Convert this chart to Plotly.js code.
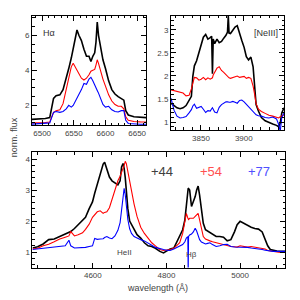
<!DOCTYPE html>
<html>
<head>
<meta charset="utf-8">
<script src="https://cdn.plot.ly/plotly-3.0.1.min.js"></script>
<style>html,body{margin:0;padding:0;background:#fff;}#chart{width:300px;height:300px;}</style>
</head>
<body>
<div id="chart"></div>
<script>
// ---- Panel A: H-alpha ----
const wlA = [6484,6495,6505,6512,6515,6518,6522,6528,6533,6538,6542,6546,6549,6552,6555,6558,6562,6566,6570,6574,6577,6580,6583,6585,6587,6589,6592,6596,6600,6605,6610,6615,6620,6625,6629,6632,6636,6645,6655,6664];
const blackA = [1.2,1.22,1.25,1.3,1.8,2.4,2.55,2.6,2.9,3.5,4.1,4.7,5.2,5.7,6.3,6.0,5.7,5.2,4.8,4.8,4.5,4.8,5.0,5.6,6.75,6.0,5.3,4.6,4.1,3.4,2.9,2.65,2.5,2.4,2.3,1.7,1.45,1.35,1.32,1.3];
const redA = [1.0,1.0,1.02,1.05,1.3,1.6,1.7,1.75,2.1,2.9,3.7,4.2,4.4,4.2,3.95,3.75,3.55,3.45,3.55,3.75,3.95,4.0,4.05,4.3,4.6,4.4,4.0,3.5,3.1,2.6,2.25,2.05,1.95,1.95,1.8,1.35,1.15,1.08,1.06,1.05];
const blueA = [0.93,0.95,0.97,1.0,1.3,1.6,1.65,1.6,1.65,1.8,2.0,1.9,2.0,2.2,2.35,2.6,2.9,3.25,3.2,3.5,3.6,3.4,3.2,3.05,2.85,2.7,2.4,2.05,1.9,1.95,1.75,1.65,1.62,1.7,1.7,1.15,0.97,0.93,0.92,0.92];

// ---- Panel B: [NeIII] ----
const wlB = [3815,3818.5,3822,3825.6,3829.1,3832.6,3836.1,3838.8,3840.5,3842.3,3844.9,3847.6,3850.2,3852.8,3855.5,3858.1,3860.8,3862.5,3863.4,3864.3,3866,3868.7,3871.3,3874,3876.6,3879.2,3881,3881.9,3882.8,3884.5,3887.2,3889.8,3892.4,3895.1,3897.7,3900.4,3903,3905.6,3908.3,3910.9,3912.7,3914.4,3917.1,3920.6,3925,3929.4,3933.8,3938.2,3940.8,3942.6,3944.4,3947];
const blackB = [1.41,1.35,1.31,1.29,1.31,1.36,1.47,1.56,1.99,2.22,2.33,2.5,2.72,2.84,2.9,2.8,2.83,2.86,2.05,2.8,2.7,2.8,2.72,2.75,2.82,2.88,2.95,3.3,2.93,2.92,2.99,3.06,3.09,2.9,2.77,2.62,2.42,2.35,2.41,2.2,1.75,1.38,1.24,1.1,1.03,0.99,0.96,0.93,0.9,0.98,1.2,1.31];
const redB = [1.7,1.68,1.66,1.65,1.63,1.57,1.58,1.72,1.88,1.97,1.96,1.91,1.93,1.97,1.92,1.96,1.93,1.95,1.96,2.02,2.08,2.17,2.2,2.12,2.08,2.02,2.0,1.98,1.96,1.95,1.97,1.98,2.0,1.97,1.98,1.99,1.95,1.97,1.95,1.78,1.6,1.4,1.28,1.23,1.19,1.15,1.13,1.1,1.09,1.12,1.14,1.16];
const blueB = [1.52,1.26,1.13,1.09,1.1,1.12,1.2,1.27,1.35,1.39,1.3,1.32,1.34,1.28,1.21,1.25,1.24,1.29,1.31,1.28,1.22,1.2,1.32,1.38,1.41,1.44,1.44,1.43,1.43,1.43,1.45,1.43,1.41,1.47,1.48,1.44,1.39,1.35,1.3,1.24,1.2,1.16,1.14,1.13,1.1,1.09,1.11,1.07,0.95,0.8,1.1,1.2];

// ---- Panel C: HeII 4686 / H-beta ----
const wlC = [4436,4450,4465,4480,4495,4510,4525,4535,4540,4550,4560,4572,4580,4590,4599,4605,4612,4620,4628,4632,4638,4645,4652,4660,4668,4674,4678,4682,4685,4688,4691,4695,4700,4705,4712,4720,4730,4740,4750,4760,4770,4782,4792,4800,4810,4820,4828,4836,4844,4850,4854,4858,4859,4860,4863,4868,4873,4878,4882,4886,4890,4895,4900,4906,4912,4918,4925,4935,4945,4955,4965,4975,4985,4992,5000,5010,5020,5030,5040,5050,5060,5068,5075,5082,5090,5100,5110,5122];
const blackC = [1.13,1.17,1.26,1.4,1.42,1.5,1.57,1.62,1.66,1.76,1.87,2.0,2.12,2.4,2.62,2.9,3.2,3.5,3.84,3.9,3.7,3.42,3.3,3.22,3.17,3.3,3.75,3.86,3.7,3.4,2.95,2.4,2.0,1.88,1.72,1.56,1.45,1.3,1.2,1.18,1.12,1.02,0.97,1.02,1.1,1.13,1.34,1.56,1.72,2.04,2.58,3.0,3.06,3.05,3.0,2.47,2.63,2.79,3.0,3.13,2.84,2.36,1.93,1.72,1.67,1.62,1.56,1.5,1.5,1.48,1.36,1.4,1.66,1.88,1.99,1.92,1.85,1.8,1.76,1.74,1.65,1.4,1.2,1.08,1.05,1.03,1.02,1.02];
const redC = [1.1,1.12,1.2,1.25,1.33,1.42,1.48,1.52,1.66,1.52,1.56,1.62,1.73,1.9,2.12,2.2,2.3,2.33,2.25,2.28,2.3,2.43,2.7,3.05,3.3,3.45,3.55,3.7,3.8,3.93,3.85,3.6,3.2,3.0,2.55,2.15,1.8,1.6,1.45,1.3,1.2,1.08,1.05,1.06,1.08,1.12,1.2,1.3,1.6,2.04,2.25,2.1,2.05,2.05,2.09,2.09,2.09,2.15,2.2,2.25,2.04,1.7,1.5,1.42,1.4,1.36,1.33,1.3,1.26,1.24,1.22,1.18,1.17,1.16,1.2,1.18,1.16,1.18,1.16,1.15,1.13,1.1,1.05,1.03,1.02,1.0,0.99,0.99];
const blueC = [1.08,1.1,1.12,1.14,1.16,1.19,1.2,1.38,1.2,1.13,1.13,1.13,1.15,1.18,1.2,1.44,1.41,1.42,1.43,1.47,1.5,1.45,1.43,1.52,1.7,1.95,2.4,2.85,3.06,2.85,2.45,2.05,1.75,1.6,1.5,1.45,1.4,1.36,1.3,1.22,1.15,1.1,1.08,1.06,1.05,1.1,1.15,1.18,1.24,1.33,1.45,1.5,0.3,1.5,1.55,1.58,1.65,1.77,1.68,1.55,1.4,1.32,1.29,1.26,1.28,1.3,1.24,1.18,1.2,1.24,1.25,1.18,1.16,1.16,1.16,1.16,1.15,1.13,1.12,1.1,1.08,1.06,1.04,1.02,1.02,1.02,1.02,1.02];

const epochLabels = ['+44', '+54', '+77'];
const seriesColors = ['#000000', '#ff0000', '#0000ff'];
const labelColors = ['#404040', '#ff5050', '#5050ff'];

const FONT = 'Liberation Sans, Arial, sans-serif';

function mk(x, y, i, ax) {
  return {x: x, y: y, type: 'scatter', mode: 'lines', xaxis: 'x' + ax, yaxis: 'y' + ax,
    line: {color: seriesColors[i], width: i === 0 ? 1.6 : 1.1}, hoverinfo: 'skip', showlegend: false};
}
const data = [
  mk(wlA, blackA, 0, ''), mk(wlA, redA, 1, ''), mk(wlA, blueA, 2, ''),
  mk(wlB, blackB, 0, '2'), mk(wlB, redB, 1, '2'), mk(wlB, blueB, 2, '2'),
  mk(wlC, blackC, 0, '3'), mk(wlC, redC, 1, '3'), mk(wlC, blueC, 2, '3')
];

function axis(extra) {
  return Object.assign({
    showline: true, linecolor: '#000', linewidth: 1, mirror: 'allticks',
    ticks: 'inside', ticklen: 5, tickcolor: '#000', tickwidth: 1,
    showgrid: false, zeroline: false, fixedrange: true,
    tickfont: {family: FONT, size: 8, color: '#444'}
  }, extra);
}
function minor(d) { return {dtick: d, ticks: 'inside', ticklen: 2.5, tickcolor: '#000', tickwidth: 1, showgrid: false}; }

const layout = {
  width: 300, height: 300,
  margin: {l: 0, r: 0, t: 0, b: 0},
  paper_bgcolor: '#fff', plot_bgcolor: '#fff',
  showlegend: false,
  xaxis: axis({domain: [0.1067, 0.4867], range: [6484, 6664], dtick: 50, tick0: 6500, minor: minor(10), anchor: 'y'}),
  yaxis: axis({domain: [0.5833, 0.9467], range: [0.88, 7.1], dtick: 2, tick0: 0, minor: minor(0.5), anchor: 'x'}),
  xaxis2: axis({domain: [0.57, 0.9467], range: [3815, 3947], dtick: 50, tick0: 3850, minor: minor(10), anchor: 'y2'}),
  yaxis2: axis({domain: [0.5667, 0.9467], range: [0.83, 3.3], dtick: 0.5, tick0: 1, minor: minor(0.1), anchor: 'x2'}),
  xaxis3: axis({domain: [0.1083, 0.95], range: [4436, 5122], dtick: 200, tick0: 4600, minor: minor(50), anchor: 'y3'}),
  yaxis3: axis({domain: [0.1083, 0.4923], range: [0.5, 4.22], dtick: 1, tick0: 1, minor: minor(0.2), anchor: 'x3'}),
  annotations: [
    {text: 'norm. flux', xref: 'paper', yref: 'paper', x: 0.047, y: 0.543, textangle: -90, showarrow: false,
     font: {family: FONT, size: 9, color: '#444'}, xanchor: 'center', yanchor: 'middle'},
    {text: 'wavelength (Å)', xref: 'paper', yref: 'paper', x: 0.525, y: 0.04, showarrow: false,
     font: {family: FONT, size: 9, color: '#444'}, xanchor: 'center', yanchor: 'middle'},
    {text: 'Hα', xref: 'paper', yref: 'paper', x: 0.163, y: 0.89, showarrow: false,
     font: {family: FONT, size: 9, color: '#333'}, xanchor: 'center', yanchor: 'middle'},
    {text: '[NeIII]', xref: 'paper', yref: 'paper', x: 0.887, y: 0.889, showarrow: false,
     font: {family: FONT, size: 9, color: '#333'}, xanchor: 'center', yanchor: 'middle'},
    {text: 'HeII', xref: 'paper', yref: 'paper', x: 0.415, y: 0.158, showarrow: false,
     font: {family: FONT, size: 8, color: '#444'}, xanchor: 'center', yanchor: 'middle'},
    {text: 'Hβ', xref: 'paper', yref: 'paper', x: 0.638, y: 0.152, showarrow: false,
     font: {family: FONT, size: 8, color: '#444'}, xanchor: 'center', yanchor: 'middle'},
    {text: epochLabels[0], xref: 'paper', yref: 'paper', x: 0.54, y: 0.427, showarrow: false,
     font: {family: FONT, size: 13, color: labelColors[0]}, xanchor: 'center', yanchor: 'middle'},
    {text: epochLabels[1], xref: 'paper', yref: 'paper', x: 0.703, y: 0.427, showarrow: false,
     font: {family: FONT, size: 13, color: labelColors[1]}, xanchor: 'center', yanchor: 'middle'},
    {text: epochLabels[2], xref: 'paper', yref: 'paper', x: 0.863, y: 0.427, showarrow: false,
     font: {family: FONT, size: 13, color: labelColors[2]}, xanchor: 'center', yanchor: 'middle'}
  ]
};

Plotly.newPlot('chart', data, layout, {staticPlot: true, displayModeBar: false});
</script>
</body>
</html>
